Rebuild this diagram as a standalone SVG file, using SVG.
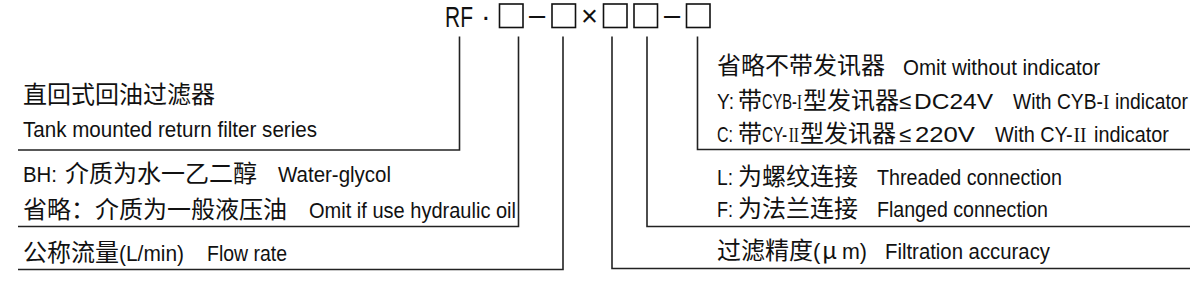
<svg xmlns="http://www.w3.org/2000/svg" width="1194" height="290" viewBox="0 0 1194 290">
<style>
.cn{font-family:"Noto Sans CJK SC",sans-serif;font-size:24px;fill:#111}
.en{font-family:"Liberation Sans","Noto Sans CJK SC",sans-serif;font-size:22px;fill:#111}
.code{font-family:"Liberation Sans","Noto Sans CJK SC",sans-serif;font-size:29px;fill:#111}
.ser{font-family:"Liberation Serif",serif;font-size:22px;fill:#111}
.ln{fill:none;stroke:#222;stroke-width:1.6}
.bx{fill:none;stroke:#111;stroke-width:1.6}
</style>
<rect width="1194" height="290" fill="#fff"/>
<g id="code">
<text class="code" transform="translate(445,27) scale(0.723,1)">RF</text>
<text class="code" x="481" y="26">·</text>
<rect class="bx" x="499.5" y="4" width="23.5" height="23.5"/>
<text class="code" x="529" y="25">–</text>
<rect class="bx" x="552" y="4" width="23.5" height="23.5"/>
<text class="code" x="581" y="26">×</text>
<rect class="bx" x="603.5" y="4" width="23.5" height="23.5"/>
<rect class="bx" x="634" y="4" width="23.5" height="23.5"/>
<text class="code" x="664" y="25">–</text>
<rect class="bx" x="686.5" y="4" width="23.5" height="23.5"/>
</g>
<g id="connectors">
<polyline class="ln" points="459.5,36.5 459.5,150 18,150"/>
<polyline class="ln" points="518.5,36.5 518.5,226.5 18,226.5"/>
<polyline class="ln" points="563,36.5 563,269.5 18,269.5"/>
<polyline class="ln" points="612,36.5 612,268.5 1190,268.5"/>
<polyline class="ln" points="647,36.5 647,226.5 1190,226.5"/>
<polyline class="ln" points="697.5,36.5 697.5,149.5 1190,149.5"/>
</g>
<g id="series">
<text class="cn" x="23" y="103">直回式回油过滤器</text>
<text class="en" x="23" y="137" textLength="294" lengthAdjust="spacingAndGlyphs">Tank mounted return filter series</text>
</g>
<g id="medium">
<text class="en" x="23" y="182" textLength="34" lengthAdjust="spacingAndGlyphs">BH:</text>
<text class="cn" x="65" y="182">介质为水一乙二醇</text>
<text class="en" x="278" y="182" textLength="113" lengthAdjust="spacingAndGlyphs">Water-glycol</text>
<text class="cn" x="23" y="218">省略：介质为一般液压油</text>
<text class="en" x="309" y="218" textLength="207" lengthAdjust="spacingAndGlyphs">Omit if use hydraulic oil</text>
</g>
<g id="flow">
<text class="cn" x="23" y="261">公称流量</text>
<text class="en" x="119" y="261" textLength="65" lengthAdjust="spacingAndGlyphs">(L/min)</text>
<text class="en" x="207" y="261" textLength="80" lengthAdjust="spacingAndGlyphs">Flow rate</text>
</g>
<g id="indicator">
<text class="cn" x="717" y="74">省略不带发讯器</text>
<text class="en" x="903" y="75" textLength="197" lengthAdjust="spacingAndGlyphs">Omit without indicator</text>
<text class="en" x="717" y="109" textLength="17" lengthAdjust="spacingAndGlyphs">Y:</text>
<text class="cn" x="738" y="109">带</text>
<text class="en" transform="translate(762,109) scale(0.665,1)">CYB-</text>
<text class="ser" transform="translate(797,109) scale(0.68,1)">I</text>
<text class="cn" x="803" y="109">型发讯器</text>
<text class="en" x="899" y="109">≤</text>
<text class="en" x="914" y="109" textLength="79" lengthAdjust="spacingAndGlyphs">DC24V</text>
<text class="en" transform="translate(1013,109) scale(0.876,1)">With CYB-</text>
<text class="ser" transform="translate(1103,109) scale(0.876,1)">I</text>
<text class="en" transform="translate(1115,109) scale(0.878,1)">indicator</text>
<text class="en" x="717" y="142" textLength="16" lengthAdjust="spacingAndGlyphs">C:</text>
<text class="cn" x="738" y="142">带</text>
<text class="en" transform="translate(762,142) scale(0.70,1)">CY-</text>
<text class="ser" transform="translate(788.7,142) scale(0.703,1)">II</text>
<text class="cn" x="800" y="142">型发讯器</text>
<text class="en" x="899" y="142">≤</text>
<text class="en" x="915" y="142" textLength="60" lengthAdjust="spacingAndGlyphs">220V</text>
<text class="en" transform="translate(995,142) scale(0.903,1)">With CY-</text>
<text class="ser" transform="translate(1073.5,142) scale(0.887,1)">II</text>
<text class="en" transform="translate(1094,142) scale(0.902,1)">indicator</text>
</g>
<g id="connection">
<text class="en" x="717" y="185" textLength="16" lengthAdjust="spacingAndGlyphs">L:</text>
<text class="cn" x="738" y="185">为螺纹连接</text>
<text class="en" x="877" y="185" textLength="185" lengthAdjust="spacingAndGlyphs">Threaded connection</text>
<text class="en" x="717" y="217" textLength="16" lengthAdjust="spacingAndGlyphs">F:</text>
<text class="cn" x="738" y="217">为法兰连接</text>
<text class="en" x="877" y="217" textLength="171" lengthAdjust="spacingAndGlyphs">Flanged connection</text>
</g>
<g id="accuracy">
<text class="cn" x="717" y="259">过滤精度</text>
<text class="en" x="813" y="259">(</text>
<text class="cn" x="822" y="259">μ</text>
<text class="en" x="842" y="259" textLength="25" lengthAdjust="spacingAndGlyphs">m)</text>
<text class="en" x="885" y="259" textLength="165" lengthAdjust="spacingAndGlyphs">Filtration accuracy</text>
</g>
</svg>
